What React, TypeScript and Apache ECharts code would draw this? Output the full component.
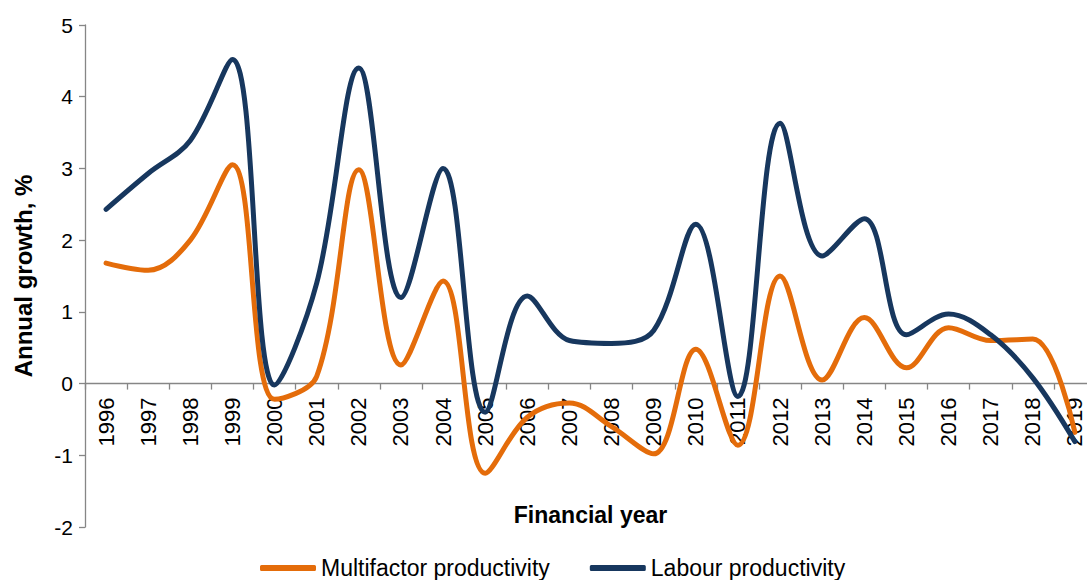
import React, { useEffect, useRef } from "react";
import * as echarts from "echarts";

const years: string[] = [
  "1996", "1997", "1998", "1999", "2000", "2001", "2002", "2003", "2004", "2005", "2006", "2007",
  "2008", "2009", "2010", "2011", "2012", "2013", "2014", "2015", "2016", "2017", "2018", "2019",
];

const multifactor: number[] = [
  1.68, 1.58, 2.0, 3.05, -0.22, 0.1, 2.98, 0.26, 1.43, -1.25, -0.47, -0.27,
  -0.6, -0.98, 0.48, -0.86, 1.5, 0.05, 0.92, 0.22, 0.78, 0.6, 0.62, -0.68,
];

const labour: number[] = [
  2.43, 2.93, 3.39, 4.52, -0.02, 1.4, 4.4, 1.2, 3.0, -0.4, 1.22, 0.6,
  0.56, 0.74, 2.22, -0.18, 3.63, 1.78, 2.3, 0.68, 0.97, 0.68, 0.08, -0.81,
];

const yTicks = { min: -2, max: 5, interval: 1 };

const FONT = "'Liberation Sans', Arial, sans-serif";

export default function App() {
  const ref = useRef<HTMLDivElement>(null);

  useEffect(() => {
    if (!ref.current) return;
    const chart = echarts.init(ref.current, undefined, { renderer: "svg" });
    const axisGrey = "#868686";
    const gridTop = 25;
    const gridBottom = 53;
    const plotH = 580 - gridTop - gridBottom;
    // distance from plot bottom (y = min) up to the zero line
    const zeroOffset = (plotH * (0 - yTicks.min)) / (yTicks.max - yTicks.min);
    chart.setOption({
      animation: false,
      backgroundColor: "#ffffff",
      textStyle: { fontFamily: FONT, color: "#000" },
      grid: { left: 85, right: -9, top: gridTop, bottom: gridBottom, containLabel: false, outerBoundsMode: "none" },
      legend: {
        left: 255,
        top: 550,
        icon: "roundRect",
        itemWidth: 56,
        itemHeight: 6,
        itemGap: 40,
        textStyle: { fontSize: 23, fontFamily: FONT, color: "#000", lineHeight: 26 },
        data: ["Multifactor productivity", "Labour productivity"],
      },
      xAxis: {
        type: "category",
        data: years,
        boundaryGap: true,
        offset: -zeroOffset,
        name: "Financial year",
        nameLocation: "middle",
        nameGap: 120,
        nameTextStyle: { fontSize: 23, fontWeight: "bold", fontFamily: FONT, color: "#000" },
        axisLine: { onZero: false, lineStyle: { color: axisGrey, width: 1.3 } },
        axisTick: { show: true, interval: 0, alignWithLabel: false, length: 6, lineStyle: { color: axisGrey, width: 1.3 } },
        axisLabel: { interval: 0, rotate: 90, margin: 14, fontSize: 22, fontFamily: FONT, color: "#000" },
        splitLine: { show: false },
      },
      yAxis: {
        type: "value",
        min: yTicks.min,
        max: yTicks.max,
        interval: yTicks.interval,
        name: "Annual growth, %",
        nameLocation: "middle",
        nameRotate: 90,
        nameGap: 50,
        nameTextStyle: { fontSize: 24, fontWeight: "bold", fontFamily: FONT, color: "#000" },
        axisLine: { show: true, lineStyle: { color: axisGrey, width: 1.3 } },
        axisTick: { show: true, length: 6, lineStyle: { color: axisGrey, width: 1.3 } },
        axisLabel: { margin: 12, fontSize: 21, fontFamily: FONT, color: "#000" },
        splitLine: { show: false },
      },
      series: [
        {
          name: "Multifactor productivity",
          type: "line",
          data: multifactor,
          smooth: 0.36,
          showSymbol: false,
          symbol: "none",
          lineStyle: { color: "#E46C0A", width: 5, cap: "round", join: "round" },
          itemStyle: { color: "#E46C0A" },
        },
        {
          name: "Labour productivity",
          type: "line",
          data: labour,
          smooth: 0.36,
          showSymbol: false,
          symbol: "none",
          lineStyle: { color: "#17375E", width: 5, cap: "round", join: "round" },
          itemStyle: { color: "#17375E" },
        },
      ],
    });
    return () => chart.dispose();
  }, []);

  return (
    <div
      ref={ref}
      style={{ position: "absolute", left: 0, top: 0, width: 1087, height: 580, overflow: "hidden" }}
    />
  );
}
